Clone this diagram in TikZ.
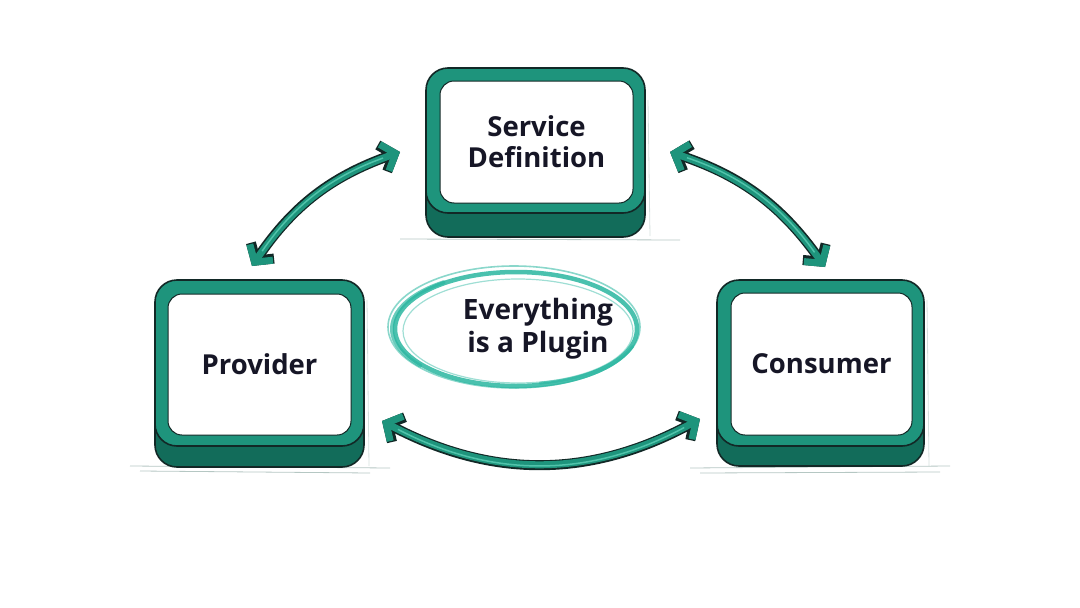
\documentclass[tikz,border=0pt]{standalone}
\usepackage{fontspec}
\setmainfont{Open Sans}
\usetikzlibrary{arrows.meta}
\definecolor{tealface}{RGB}{30,148,124}
\definecolor{tealside}{RGB}{18,108,90}
\definecolor{teallight}{RGB}{80,195,170}
\definecolor{outline}{RGB}{18,40,38}
\definecolor{brush}{RGB}{42,182,160}
\definecolor{ink}{RGB}{22,22,38}
\definecolor{sketch}{RGB}{150,175,170}
\tikzset{
  basepart/.style={fill=tealside, draw=outline, line width=1.6pt, rounded corners=22pt},
  facepart/.style={fill=tealface, draw=outline, line width=1.6pt, rounded corners=22pt},
  inner/.style={fill=white, draw=outline, line width=1pt, rounded corners=14pt, inner sep=0pt,
                font=\fontsize{27.5}{31}\selectfont\bfseries, text=ink, align=center},
  arrowdark/.style={draw=outline, line width=10pt,
     {Straight Barb[length=12pt,width=28pt]}-{Straight Barb[length=12pt,width=28pt]}},
  arrowteal/.style={draw=tealface, line width=7pt,
     {Straight Barb[length=12pt,width=28pt]}-{Straight Barb[length=12pt,width=28pt]}},
  arrowhi/.style={draw=teallight, line width=1.5pt, shorten <=18pt, shorten >=18pt},
  brushline/.style={draw=brush, line cap=round},
  ground/.style={draw=sketch, line width=0.8pt, opacity=0.7},
}
\begin{document}
\begin{tikzpicture}[x=1pt,y=-1pt]
\useasboundingbox (0,0) rectangle (1080,608);

% ground sketch lines
\draw[ground] (400,239) -- (680,240);
\draw[ground] (130,466) -- (390,468);
\draw[ground] (690,468) -- (950,466);
\draw[ground] (140,471) -- (370,473);
\draw[ground] (700,473) -- (940,472);
\draw[ground, opacity=0.4] (648,100) -- (650,236);
\draw[ground, opacity=0.4] (367,300) -- (369,466);
\draw[ground, opacity=0.4] (927,300) -- (929,466);

% Service Definition box
\draw[basepart] (426,150) rectangle (645,237);
\draw[facepart] (426,68) rectangle (645,213);
\node[inner, minimum width=193pt, minimum height=122pt] (sd) at (536.5,142) {Service\\Definition};

% Provider box
\draw[basepart] (155,380) rectangle (364,467);
\draw[facepart] (155,280) rectangle (364,446);
\node[inner, minimum width=183pt, minimum height=141pt] (prov) at (259.5,364.5) {Provider};

% Consumer box
\draw[basepart] (717,380) rectangle (924,466);
\draw[facepart] (717,280) rectangle (924,446);
\node[inner, minimum width=181pt, minimum height=142pt] (cons) at (821.5,364) {Consumer};

% Central ellipse
\draw[brushline, line width=4.5pt, opacity=0.85] (516,329) ellipse [x radius=121, y radius=57];
\draw[brushline, line width=1.6pt, opacity=0.55] (514,327) ellipse [x radius=126, y radius=61];
\draw[brushline, line width=1.2pt, opacity=0.45] (518,331) ellipse [x radius=115, y radius=52];
\draw[brushline, line width=4pt, opacity=0.7] (513,329) ++(140:121 and 57) arc[start angle=140, end angle=235, x radius=121, y radius=57];
\draw[brushline, line width=3pt, opacity=0.6] (519,327) ++(20:121 and 57) arc[start angle=20, end angle=80, x radius=121, y radius=57];
\node[font=\fontsize{28}{33}\selectfont\bfseries, text=ink, align=center] (core) at (538,329) {Everything\\is a Plugin};

% Arrow end points
\coordinate (a1) at (252,266);
\coordinate (a2) at (400,152);
\coordinate (b1) at (670,152);
\coordinate (b2) at (825,267);
\coordinate (c1) at (382,421);
\coordinate (c2) at (700,419);

% Arrows: provider <-> service definition
\draw[arrowdark] (a1) to[bend left=18] (a2);
\draw[arrowteal] (a1) to[bend left=18] (a2);
\draw[arrowhi] (a1) to[bend left=18] (a2);
% service definition <-> consumer
\draw[arrowdark] (b1) to[bend left=18] (b2);
\draw[arrowteal] (b1) to[bend left=18] (b2);
\draw[arrowhi] (b1) to[bend left=18] (b2);
% provider <-> consumer
\draw[arrowdark] (c1) to[bend right=28] (c2);
\draw[arrowteal] (c1) to[bend right=28] (c2);
\draw[arrowhi] (c1) to[bend right=28] (c2);
\end{tikzpicture}
\end{document}
